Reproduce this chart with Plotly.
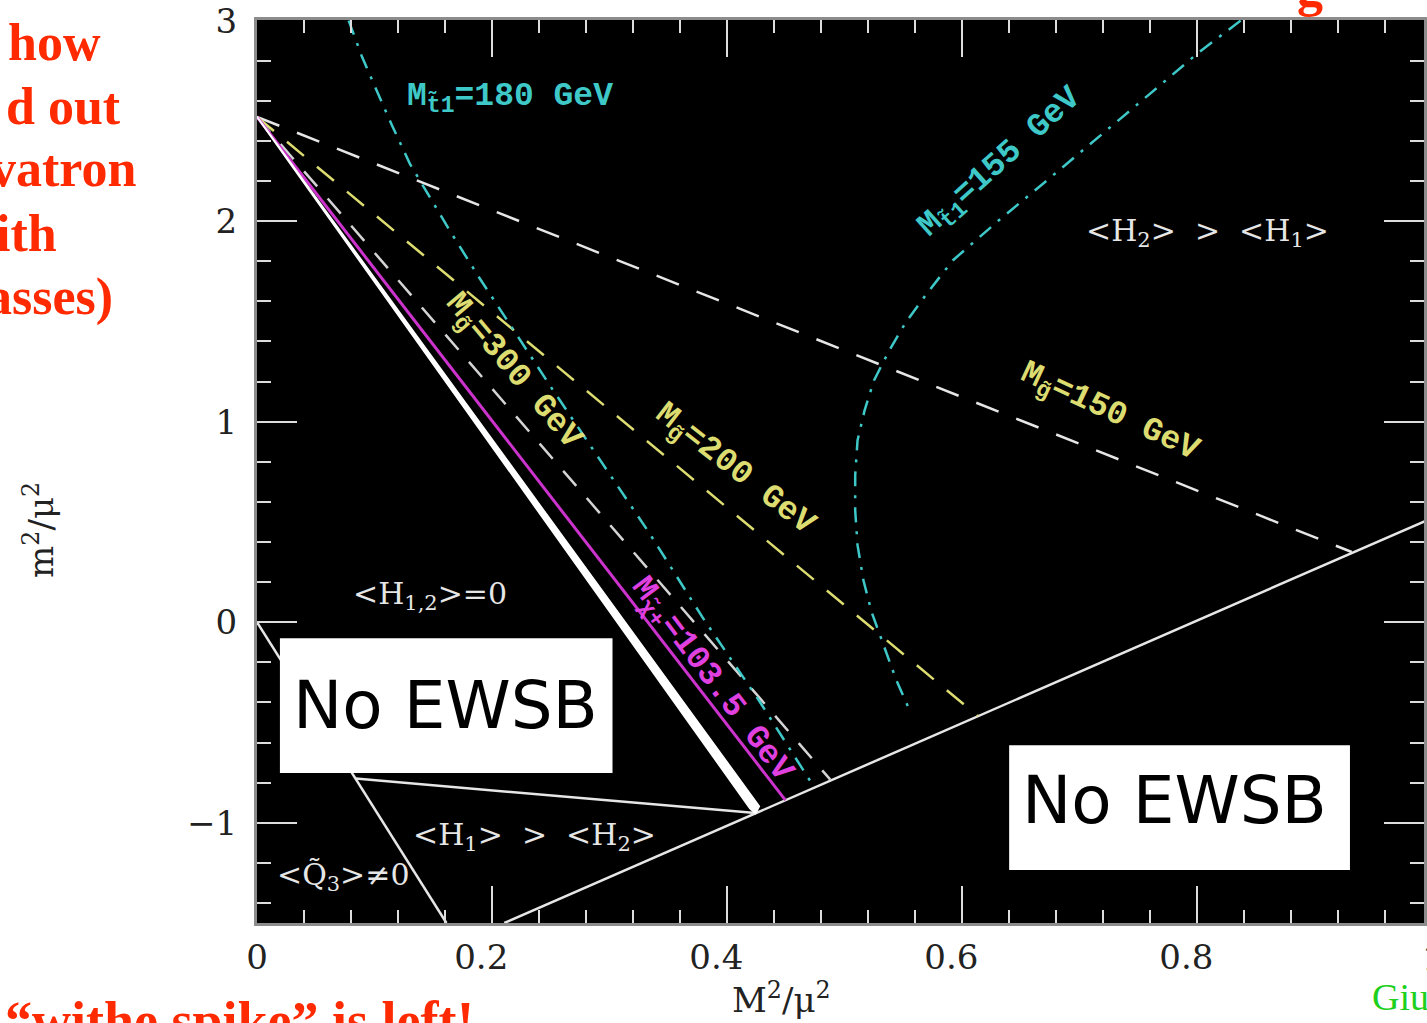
import plotly.graph_objects as go

# ---------------- data (x = M^2/mu^2, y = m^2/mu^2) ----------------
x_tick_vals = [0, 0.2, 0.4, 0.6, 0.8]
x_tick_text = ["0", "0.2\u00a0\u00a0", "0.4\u00a0\u00a0", "0.6\u00a0\u00a0", "0.8\u00a0\u00a0"]
y_tick_vals = [-1, 0, 1, 2, 3]
y_tick_text = ["\u22121", "0", "1", "2", "3"]

# white "spike" region (thin wedge)
spike_x = [0.0, 0.4195, 0.4242, 0.4272, 0.0]
spike_y = [2.52, -0.928, -0.952, -0.918, 2.52]

# chargino mass contour
chargino_x = [0.0, 0.4496]
chargino_y = [2.52, -0.887]

# gluino mass contours
gluino300_x = [0.0, 0.4878]
gluino300_y = [2.52, -0.785]
gluino200_x = [0.0, 0.6134]
gluino200_y = [2.52, -0.468]
gluino150_x = [0.0, 0.9315]
gluino150_y = [2.52, 0.35]

# stop mass contours
stop180_x = [0.078, 0.089, 0.100, 0.115, 0.130, 0.147, 0.164, 0.189, 0.223, 0.252,
             0.291, 0.334, 0.379, 0.427, 0.474]
stop180_y = [3.0, 2.825, 2.676, 2.476, 2.287, 2.118, 1.953, 1.719, 1.415, 1.156,
             0.817, 0.443, 0.025, -0.389, -0.822]
stop155_x = [0.837, 0.801, 0.759, 0.716, 0.674, 0.631, 0.592, 0.570, 0.552, 0.538,
             0.525, 0.517, 0.511, 0.509, 0.509, 0.511, 0.516, 0.523, 0.533, 0.544, 0.556]
stop155_y = [3.0, 2.840, 2.631, 2.417, 2.212, 2.003, 1.804, 1.639, 1.495, 1.355,
             1.206, 1.056, 0.907, 0.732, 0.558, 0.384, 0.209, 0.050, -0.115, -0.289, -0.448]

# EWSB boundaries
lower_x = [0.2104, 1.0]
lower_y = [-1.5, 0.52]
diag_x = [0.0, 0.1612]
diag_y = [0.0, -1.5]
h1h2_x = [0.084, 0.4242]
h1h2_y = [-0.78, -0.952]

# ---------------- figure ----------------
WHITE = "#e6e6e6"
CYAN = "#3ec8c8"
YEL = "#dcdc70"
MAG = "#cc33cc"

fig = go.Figure()

def line(x, y, color, width=2.5, dash="solid"):
    fig.add_trace(go.Scatter(x=x, y=y, mode="lines", hoverinfo="skip",
                             line=dict(color=color, width=width, dash=dash),
                             showlegend=False))

line(lower_x, lower_y, WHITE, 2.5)
line(diag_x, diag_y, WHITE, 2.5)
line(h1h2_x, h1h2_y, WHITE, 2.5)
line(gluino150_x, gluino150_y, WHITE, 2.5, "24px,19px")
line(gluino200_x, gluino200_y, YEL, 2.5, "22px,17px")
line(gluino300_x, gluino300_y, "#d4d4d4", 2.5, "20px,16px")
line(stop180_x, stop180_y, CYAN, 2.5, "15px,9px,3px,9px")
line(stop155_x, stop155_y, CYAN, 2.5, "15px,9px,3px,9px")
line(chargino_x, chargino_y, MAG, 3)
fig.add_trace(go.Scatter(x=spike_x, y=spike_y, mode="lines", fill="toself",
                         fillcolor="white", line=dict(color="white", width=2),
                         hoverinfo="skip", showlegend=False))

# "No EWSB" boxes
fig.add_shape(type="rect", x0=0.0195, x1=0.3025, y0=-0.752, y1=-0.080,
              fillcolor="white", line=dict(width=0), layer="above")
fig.add_shape(type="rect", x0=0.640, x1=0.930, y0=-1.236, y1=-0.613,
              fillcolor="white", line=dict(width=0), layer="above")

MONO = "Liberation Mono"
SERIF = "DejaVu Serif"

def lab(x, y, text, color, size=30, family=MONO, angle=0, ref="data",
        xanchor="center", yanchor="middle", bold=False):
    fig.add_annotation(x=x, y=y, text=text, showarrow=False, textangle=angle,
                       xref="x" if ref == "data" else "paper",
                       yref="y" if ref == "data" else "paper",
                       xanchor=xanchor, yanchor=yanchor,
                       font=dict(family=family, size=size, color=color,
                                 weight="bold" if bold else "normal"))

# contour labels
lab(0.2155, 2.61, "M<sub>t\u03031</sub>=180 GeV", CYAN, 33, bold=True)
lab(0.633, 2.287, "M<sub>t\u03031</sub>=155 GeV", CYAN, 33, angle=-42, bold=True)
lab(0.2172, 1.246, "M<sub>g\u0303</sub>=300 GeV", YEL, 33, angle=50, bold=True)
lab(0.4055, 0.757, "M<sub>g\u0303</sub>=200 GeV", YEL, 33, angle=38, bold=True)
lab(0.7253, 1.041, "M<sub>g\u0303</sub>=150 GeV", YEL, 33, angle=25, bold=True)
lab(0.386, -0.289, "M<sub>\u03c7\u0303+</sub>=103.5 GeV", "#e040e0", 33, angle=53, bold=True)

# region labels
lab(0.8085, 1.943, "&lt;H<sub>2</sub>&gt;\u00a0\u00a0&gt;\u00a0\u00a0&lt;H<sub>1</sub>&gt;", WHITE, 30, SERIF)
lab(0.1468, 0.1345, "&lt;H<sub>1,2</sub>&gt;=0", WHITE, 30, SERIF)
lab(0.2358, -1.071, "&lt;H<sub>1</sub>&gt;\u00a0\u00a0&gt;\u00a0\u00a0&lt;H<sub>2</sub>&gt;", WHITE, 30, SERIF)
lab(0.073, -1.27, "&lt;Q\u0303<sub>3</sub>&gt;\u22600", WHITE, 30, SERIF)

lab(0.1608, -0.416, "No EWSB", "black", 66, "DejaVu Sans")
lab(0.7805, -0.887, "No EWSB", "black", 66, "DejaVu Sans")

# axis titles
lab(0.4496, -0.083, "M<sup>2</sup>/\u03bc<sup>2</sup>", "#222222", 34, SERIF, ref="paper")
lab(-0.187, 0.435, "m<sup>2</sup>/\u03bc<sup>2</sup>", "#222222", 34, SERIF, angle=-90, ref="paper")
lab(1.0077, -0.0388, "1", "#222222", 34, SERIF, ref="paper")

# surrounding slide text (cropped)
RED = "#ff2a00"
RS = "Liberation Serif"
for txt, xr, yc in [("how", 103, 42), ("d out", 123, 106), ("vatron", 138, 168),
                    ("ith", 58, 233), ("asses)", 115, 297)]:
    lab((xr - 257) / 1170, (923 - yc) / 903, txt, RED, 52, RS, ref="paper",
        xanchor="right", bold=True)
lab((2 - 257) / 1170, (923 - 1021) / 903, "\u201cwithe spike\u201d is left!", RED, 54, RS,
    ref="paper", xanchor="left", bold=True)
lab((1313 - 257) / 1170, (923 + 12) / 903, "g", RED, 52, RS, ref="paper", bold=True)
lab((1373 - 257) / 1170, (923 - 997) / 903, "Giu", "#1ed01e", 38, RS, ref="paper",
    xanchor="left")

axis_common = dict(showgrid=False, zeroline=False, showline=True, linecolor="#8c8c8c",
                   linewidth=3, mirror="allticks", ticks="inside", tickwidth=2,
                   tickcolor="#dddddd",
                   tickfont=dict(family=SERIF, size=34, color="#222222"))

fig.update_xaxes(range=[0, 0.993], tickmode="array", tickvals=x_tick_vals,
                 ticktext=x_tick_text, ticklen=37, ticklabelstandoff=2,
                 minor=dict(dtick=0.04, tick0=0, ticks="inside", ticklen=13,
                            tickwidth=2, tickcolor="#dddddd", showgrid=False),
                 **axis_common)
fig.update_yaxes(range=[-1.5, 3.003], tickmode="array", tickvals=y_tick_vals,
                 ticktext=y_tick_text, ticklen=40, ticklabelstandoff=10,
                 minor=dict(dtick=0.2, tick0=0, ticks="inside", ticklen=14,
                            tickwidth=2, tickcolor="#dddddd", showgrid=False),
                 **axis_common)

fig.update_layout(width=1427, height=1023, autosize=False,
                  margin=dict(l=257, r=0, t=20, b=100, pad=0),
                  paper_bgcolor="white", plot_bgcolor="black",
                  showlegend=False)

fig.write_html("out.html", config={"displayModeBar": False},
               post_script="document.body.style.margin='0';"
                           "document.body.style.overflow='hidden';")
